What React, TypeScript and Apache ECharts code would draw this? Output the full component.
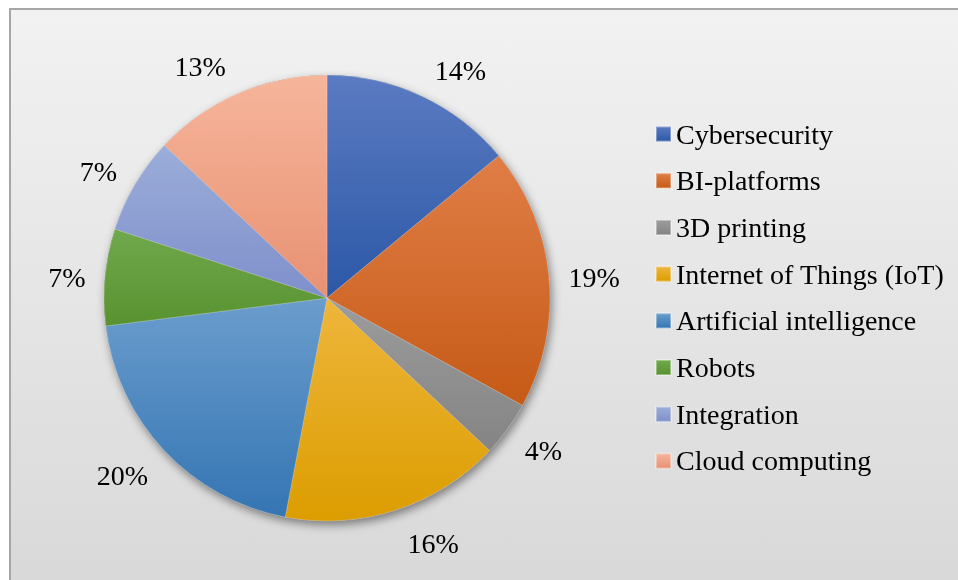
import React, { useEffect, useRef } from "react";
import * as echarts from "echarts";

const categories = [
  "Cybersecurity",
  "BI-platforms",
  "3D printing",
  "Internet of Things (IoT)",
  "Artificial intelligence",
  "Robots",
  "Integration",
  "Cloud computing",
];
const shares = [14, 19, 4, 16, 20, 7, 7, 13];
const topColors = ["#5b7bc2", "#e07e47", "#9c9c9c", "#eeb63c", "#6b9dcd", "#70a94c", "#9badd9", "#f6b59b"];
const bottomColors = ["#2b58a6", "#c65a16", "#848484", "#dc9d00", "#3475b3", "#589230", "#7f8fcb", "#e89172"];

const FONT = "'Liberation Serif', 'Times New Roman', serif";
const CX = 327;
const CY = 298;
const R = 223;

export default function App() {
  const ref = useRef<HTMLDivElement>(null);
  useEffect(() => {
    if (!ref.current) return;
    const chart = echarts.init(ref.current, undefined, { renderer: "svg" });
    const grad = (i: number) =>
      new echarts.graphic.LinearGradient(0, 0, 0, 1, [
        { offset: 0, color: topColors[i] },
        { offset: 1, color: bottomColors[i] },
      ]);
    const total = shares.reduce((a, b) => a + b, 0);
    const data = categories.map((name, i) => ({
      name,
      value: shares[i],
      itemStyle: { color: grad(i) },
    }));
    chart.setOption({
      animation: false,
      backgroundColor: "transparent",
      graphic: [
        {
          type: "rect",
          z: -10,
          silent: true,
          shape: { x: 10, y: 9, width: 980, height: 590 },
          style: {
            fill: new echarts.graphic.LinearGradient(0, 0, 0, 1, [
              { offset: 0, color: "#f2f2f2" },
              { offset: 1, color: "#d8d8d8" },
            ]),
            stroke: "#a6a6a6",
            lineWidth: 2,
          },
        },
      ],
      legend: {
        orient: "vertical",
        left: 655,
        top: 119,
        padding: 0,
        itemWidth: 15,
        itemHeight: 15,
        itemGap: 16.7,
        icon: "rect",
        selectedMode: false,
        textStyle: { fontFamily: FONT, fontSize: 28, color: "#000", lineHeight: 30 },
        data: categories,
      },
      series: [
        {
          type: "pie",
          name: "shadow",
          center: [CX, CY],
          radius: [0, R],
          silent: true,
          z: 1,
          label: { show: false },
          labelLine: { show: false },
          legendHoverLink: false,
          data: [
            {
              name: "__shadow",
              value: 1,
              itemStyle: {
                color: "#888",
                shadowBlur: 10,
                shadowOffsetX: 2,
                shadowOffsetY: 4,
                shadowColor: "rgba(0,0,0,0.45)",
              },
            },
          ],
        },
        {
          type: "pie",
          name: "main",
          center: [CX, CY],
          radius: [0, R],
          startAngle: 90,
          clockwise: true,
          z: 2,
          silent: true,
          label: {
            show: true,
            position: "inside",
            rotate: 0,
            formatter: (p: any) => `${p.value}%`,
            fontFamily: FONT,
            fontSize: 28,
            color: "#000",
          },
          labelLayout: (p: any) => {
            const i = p.dataIndex;
            let before = 0;
            for (let k = 0; k < i; k++) before += shares[k];
            const mid = ((before + shares[i] / 2) / total) * Math.PI * 2;
            const s = Math.sin(mid);
            const c = Math.cos(mid);
            const w = p.labelRect.width;
            return {
              x: CX + (R + 11.5) * s + Math.sign(s) * (w / 2 + 8),
              y: CY - 255 * c + 3,
              align: "center",
              verticalAlign: "middle",
            };
          },
          labelLine: { show: false },
          itemStyle: { borderWidth: 0.6, borderColor: "rgba(255,255,255,0.35)" },
          data,
        },
      ],
    });
    return () => chart.dispose();
  }, []);
  return (
    <div
      ref={ref}
      style={{ position: "fixed", left: 0, top: 0, width: 958, height: 580 }}
    />
  );
}
